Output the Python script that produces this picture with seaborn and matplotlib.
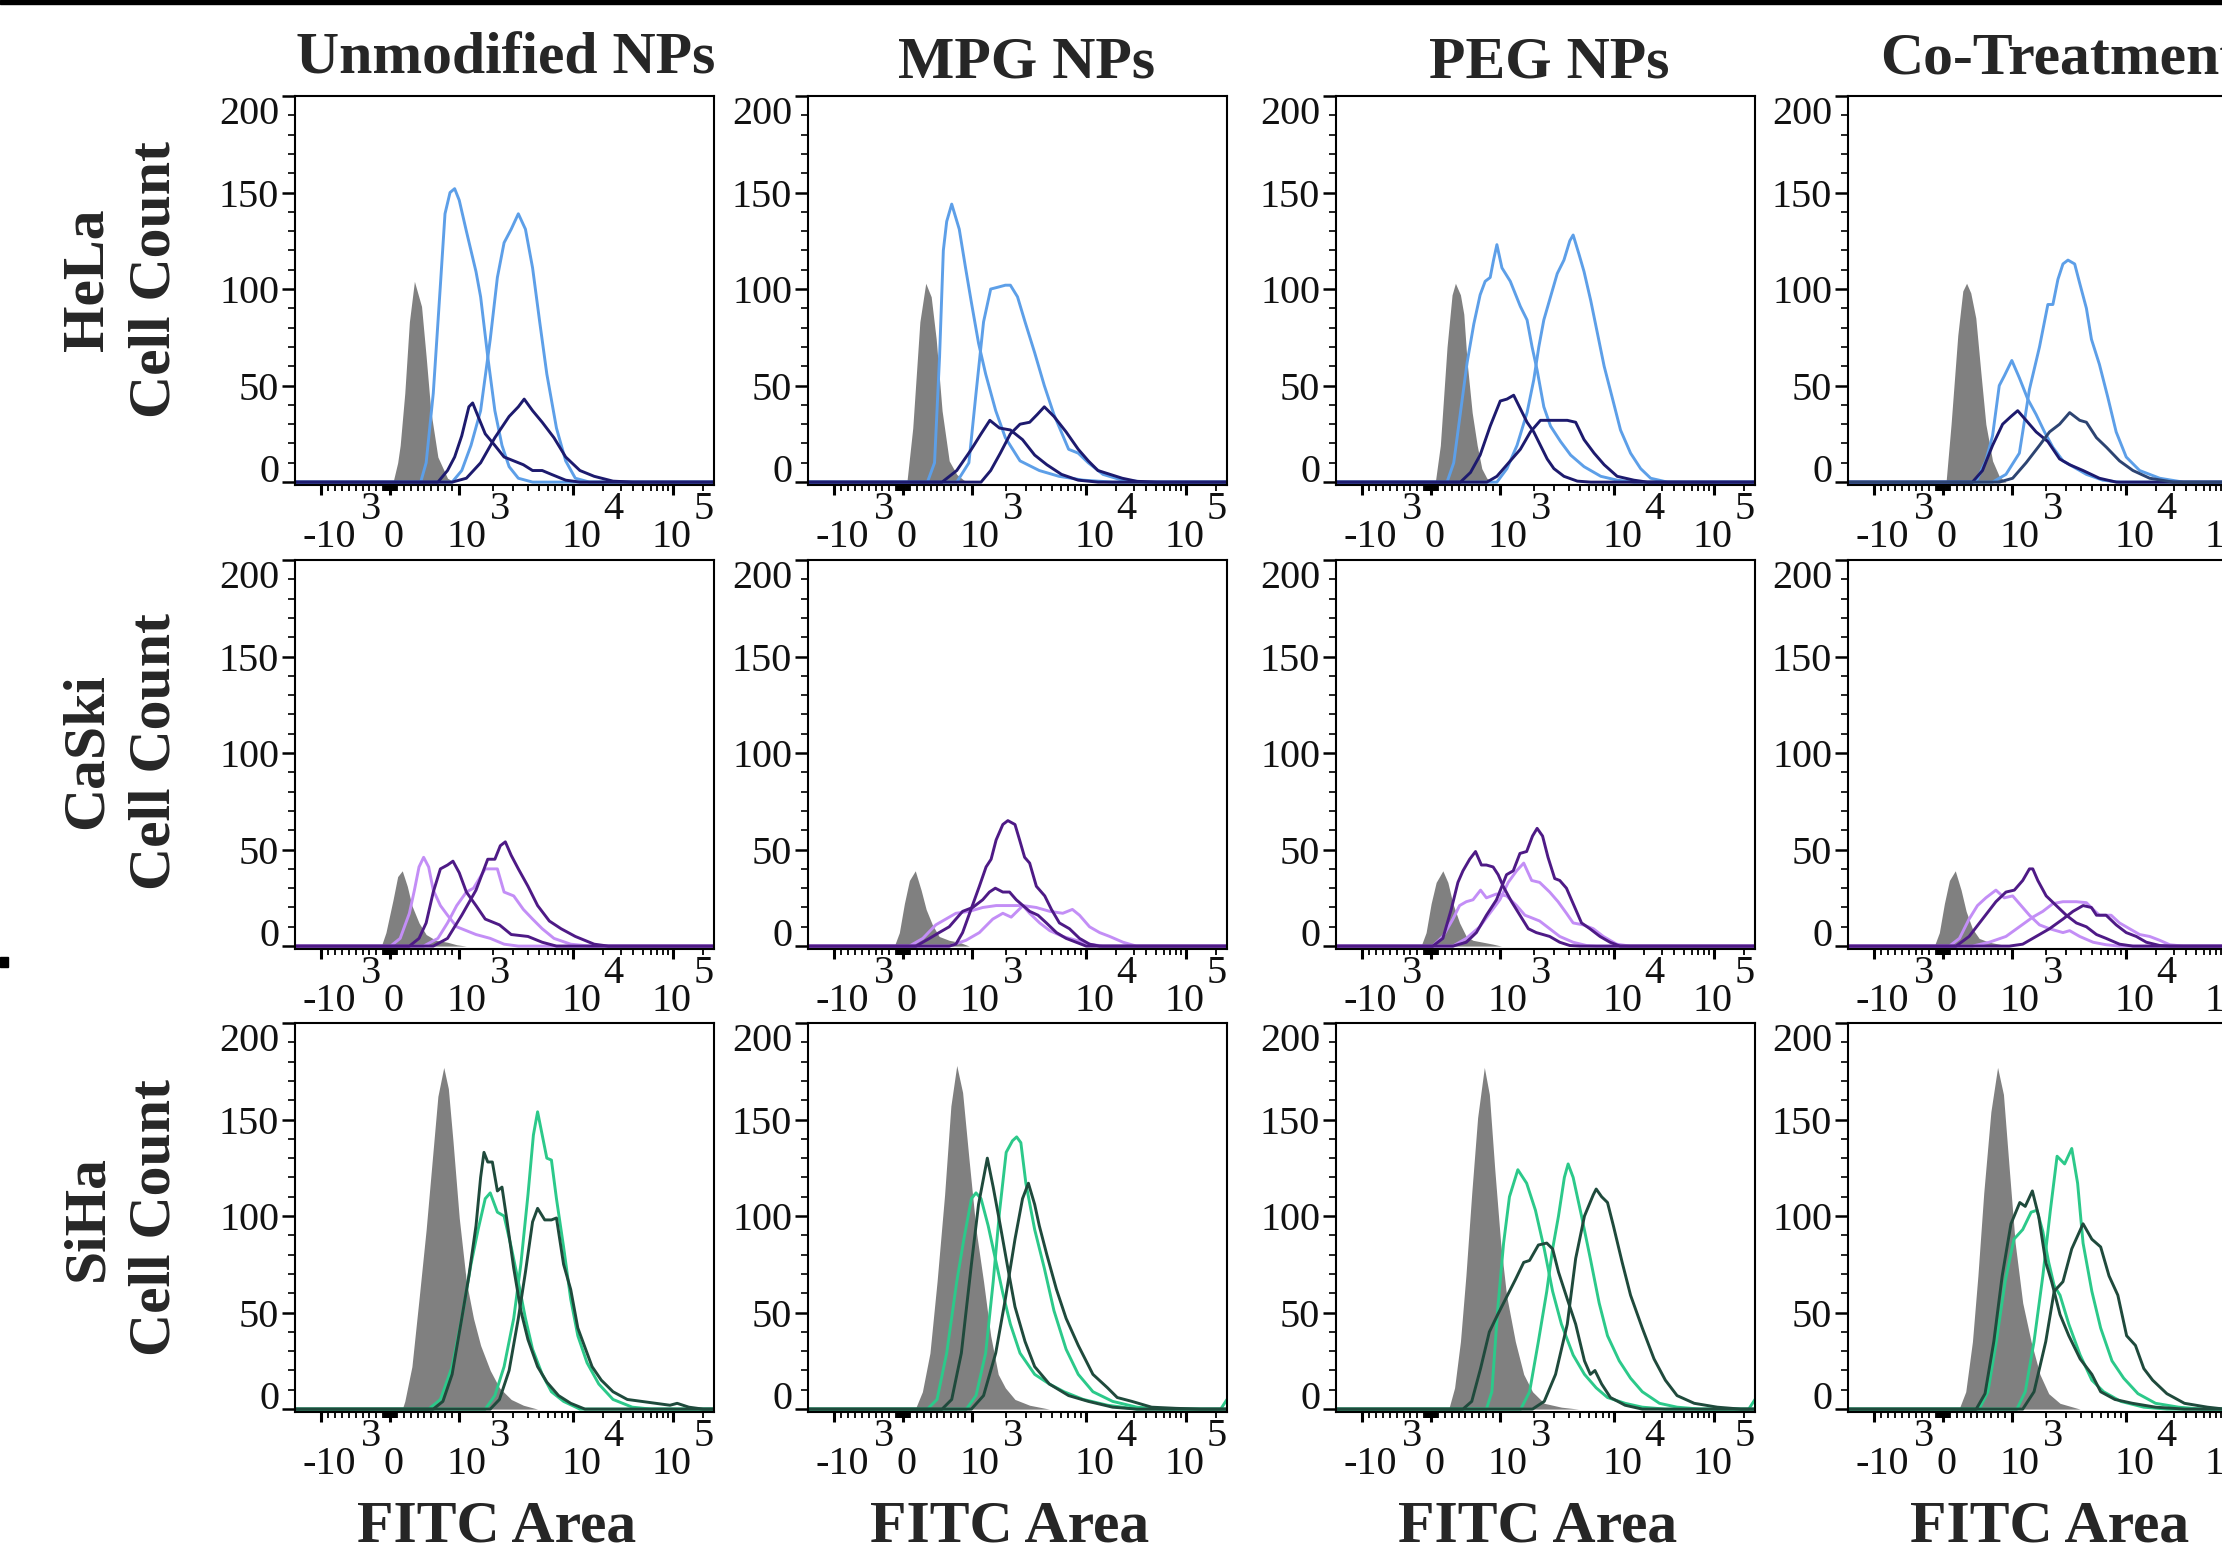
import numpy as np
import pandas as pd
import matplotlib
matplotlib.use("Agg")
import matplotlib.pyplot as plt
from matplotlib.transforms import blended_transform_factory, offset_copy
from matplotlib.patches import Rectangle
import seaborn as sns

# ---------------------------------------------------------------------------
# Histogram data: (display channel 0..1000 on the biexponential FITC axis, cell count)
# ---------------------------------------------------------------------------
CELL_LINES = ["HeLa", "CaSki", "SiHa"]
TREATMENTS = ["Unmodified NPs", "MPG NPs", "PEG NPs", "Co-Treatment"]

# HeLa
hela_unmod_ctrl = [(234, 0), (245, 10), (251, 19), (262, 46), (273, 83), (285, 104), (302, 91), (313, 65), (324, 37), (341, 13), (364, 2), (380, 0)]
hela_unmod_light1 = [(300, 0), (313, 10), (330, 46), (347, 102), (358, 139), (370, 150), (381, 152), (392, 146), (409, 130), (432, 109), (443, 96), (460, 65), (477, 37), (494, 19), (511, 8), (533, 2), (567, 0)]
hela_unmod_light2 = [(375, 0), (398, 6), (420, 19), (443, 37), (466, 74), (483, 106), (499, 124), (516, 131), (533, 139), (550, 131), (567, 111), (584, 83), (601, 56), (624, 28), (646, 11), (669, 2), (703, 0)]
hela_unmod_dark1 = [(341, 0), (364, 6), (381, 13), (398, 24), (415, 39), (424, 41), (437, 34), (454, 25), (477, 19), (499, 13), (522, 11), (545, 9), (567, 6), (590, 6), (612, 4), (646, 1), (680, 0)]
hela_unmod_dark2 = [(375, 0), (409, 2), (443, 10), (477, 23), (511, 34), (533, 39), (547, 43), (567, 37), (590, 31), (618, 23), (646, 13), (680, 6), (714, 3), (759, 0.5), (805, 0)]

hela_mpg_ctrl = [(236, 0), (250, 28), (267, 83), (281, 103), (294, 96), (306, 74), (320, 37), (337, 11), (355, 4), (372, 1), (390, 0)]
hela_mpg_light1 = [(285, 0), (302, 10), (314, 65), (323, 120), (331, 135), (343, 144), (361, 131), (376, 111), (390, 93), (407, 72), (424, 56), (448, 37), (471, 23), (506, 11), (552, 6), (599, 3), (657, 1), (727, 0)]
hela_mpg_light2 = [(355, 0), (384, 10), (401, 46), (419, 83), (436, 100), (454, 101), (471, 102), (483, 102), (500, 96), (518, 83), (541, 67), (564, 50), (587, 35), (622, 17), (645, 15), (669, 10), (704, 4), (750, 1), (808, 0)]
hela_mpg_dark1 = [(320, 0), (355, 6), (390, 17), (413, 25), (434, 32), (457, 28), (483, 27), (512, 22), (541, 14), (570, 9), (605, 4), (645, 1), (692, 0)]
hela_mpg_dark2 = [(413, 0), (436, 6), (459, 15), (483, 25), (506, 30), (529, 31), (547, 35), (564, 39), (587, 34), (616, 26), (645, 17), (669, 11), (692, 6), (721, 4), (750, 2), (785, 0.4), (832, 0)]

hela_peg_ctrl = [(237, 0), (249, 19), (265, 70), (277, 97), (285, 103), (297, 97), (305, 87), (313, 62), (325, 36), (337, 19), (348, 7), (360, 2), (376, 0)]
hela_peg_light1 = [(265, 0), (281, 10), (297, 36), (313, 62), (329, 82), (344, 97), (356, 104), (368, 106), (376, 115), (384, 123), (396, 111), (416, 104), (440, 91), (456, 84), (468, 70), (480, 58), (496, 39), (512, 29), (536, 21), (560, 14), (592, 8), (632, 3), (671, 1), (711, 0)]
hela_peg_light2 = [(384, 0), (408, 7), (432, 19), (456, 36), (472, 53), (484, 70), (496, 84), (512, 96), (528, 108), (544, 115), (558, 125), (566, 128), (580, 118), (592, 109), (608, 94), (624, 77), (640, 60), (659, 44), (679, 27), (703, 15), (727, 7), (751, 2), (791, 0)]
hela_peg_dark1 = [(297, 0), (321, 5), (344, 14), (368, 29), (392, 42), (408, 43), (424, 45), (440, 38), (456, 31), (472, 26), (488, 19), (504, 12), (520, 7), (544, 3), (576, 0.5), (608, 0)]
hela_peg_dark2 = [(360, 0), (384, 3), (408, 9), (440, 17), (464, 26), (488, 32), (520, 32), (552, 32), (572, 31), (592, 22), (616, 15), (640, 9), (671, 3), (711, 1), (743, 0)]

hela_co_ctrl = [(234, 0), (246, 30), (262, 76), (274, 99), (283, 103), (293, 98), (305, 85), (317, 57), (329, 30), (345, 11), (361, 3), (377, 0)]
hela_co_light1 = [(305, 0), (329, 11), (345, 24), (361, 50), (373, 55), (391, 63), (409, 54), (429, 43), (449, 35), (469, 26), (489, 18), (513, 11), (537, 8), (569, 4), (608, 1), (648, 0)]
hela_co_light2 = [(345, 0), (377, 4), (409, 15), (433, 48), (457, 70), (477, 92), (489, 92), (501, 105), (513, 113), (525, 115), (541, 113), (553, 103), (569, 90), (581, 74), (600, 61), (620, 44), (640, 26), (664, 13), (696, 6), (744, 2), (800, 0)]
hela_co_dark1 = [(297, 0), (321, 6), (345, 19), (369, 30), (389, 34), (405, 37), (425, 32), (449, 26), (477, 21), (505, 12), (529, 9), (561, 6), (600, 2), (640, 0)]
hela_co_dark2 = [(361, 0), (393, 2), (425, 10), (457, 19), (481, 26), (505, 30), (529, 36), (553, 32), (569, 31), (593, 23), (617, 18), (648, 11), (680, 6), (720, 2), (776, 0)]

# CaSki
caski_unmod_ctrl = [(206, 0), (217, 7), (234, 24), (245, 36), (256, 39), (268, 31), (279, 21), (296, 12), (313, 6), (336, 3), (364, 2), (386, 0.7), (409, 0)]
caski_unmod_light1 = [(228, 0), (251, 4), (273, 17), (285, 29), (296, 41), (307, 46), (319, 41), (330, 29), (347, 21), (364, 16), (386, 10), (409, 8), (432, 6), (466, 4), (499, 1), (533, 0)]
caski_unmod_light2 = [(307, 0), (341, 4), (364, 12), (386, 21), (409, 28), (426, 30), (454, 40), (483, 40), (499, 28), (522, 26), (545, 19), (567, 14), (590, 9), (618, 4), (658, 1), (703, 0)]
caski_unmod_dark1 = [(273, 0), (296, 4), (313, 12), (330, 28), (347, 40), (364, 42), (377, 44), (392, 38), (409, 28), (432, 21), (454, 14), (488, 11), (516, 6), (556, 5), (590, 2), (624, 0)]
caski_unmod_dark2 = [(330, 0), (364, 4), (398, 16), (432, 29), (460, 45), (477, 45), (490, 52), (502, 54), (516, 47), (533, 40), (556, 31), (579, 21), (607, 13), (635, 9), (669, 5), (714, 1), (748, 0)]

caski_mpg_ctrl = [(206, 0), (218, 7), (230, 22), (242, 34), (256, 39), (270, 29), (282, 19), (297, 11), (313, 5), (337, 3), (361, 2), (385, 0)]
caski_mpg_light1 = [(242, 0), (274, 4), (305, 11), (337, 15), (353, 17), (385, 18), (417, 20), (449, 21), (481, 21), (513, 21), (545, 20), (577, 18), (608, 17), (631, 19), (648, 16), (672, 10), (696, 7), (720, 5), (752, 2), (784, 0)]
caski_mpg_light2 = [(337, 0), (377, 3), (409, 7), (441, 14), (465, 17), (485, 15), (513, 21), (529, 17), (553, 12), (577, 8), (608, 5), (640, 3), (672, 1), (704, 0)]
caski_mpg_dark1 = [(258, 0), (290, 4), (313, 7), (337, 10), (369, 18), (393, 20), (417, 24), (433, 28), (447, 30), (465, 28), (481, 28), (497, 24), (513, 21), (529, 18), (549, 16), (569, 12), (593, 7), (616, 4), (640, 2), (664, 0)]
caski_mpg_dark2 = [(337, 0), (353, 1), (369, 7), (389, 19), (409, 31), (425, 41), (437, 45), (449, 55), (465, 63), (477, 65), (494, 63), (505, 55), (517, 46), (529, 43), (545, 31), (565, 26), (581, 19), (600, 12), (624, 9), (648, 4), (672, 1), (696, 0)]

caski_peg_ctrl = [(203, 0), (215, 7), (227, 22), (239, 33), (255, 39), (267, 33), (279, 22), (295, 12), (311, 5), (327, 3), (351, 2), (375, 1), (395, 0)]
caski_peg_light1 = [(231, 0), (255, 5), (279, 14), (295, 21), (311, 23), (327, 24), (345, 29), (359, 25), (383, 27), (407, 26), (431, 21), (451, 16), (463, 15), (486, 13), (510, 9), (534, 5), (566, 2), (598, 0.3), (622, 0)]
caski_peg_light2 = [(279, 0), (311, 4), (343, 10), (367, 17), (391, 24), (411, 33), (431, 39), (448, 43), (467, 34), (486, 33), (510, 28), (530, 23), (550, 17), (566, 12), (590, 11), (614, 9), (638, 5), (670, 1), (702, 0)]
caski_peg_dark1 = [(231, 0), (255, 4), (275, 19), (291, 33), (303, 39), (319, 45), (333, 49), (347, 42), (359, 42), (375, 41), (387, 37), (399, 31), (419, 23), (439, 16), (459, 9), (478, 7), (510, 5), (534, 2), (558, 0.3), (582, 0)]
caski_peg_dark2 = [(279, 0), (311, 2), (335, 7), (359, 16), (383, 24), (407, 37), (423, 39), (439, 48), (455, 49), (469, 57), (480, 61), (493, 57), (506, 46), (522, 35), (534, 34), (550, 30), (566, 22), (586, 12), (606, 9), (630, 5), (654, 2), (678, 0)]

caski_co_ctrl = [(206, 0), (218, 7), (230, 22), (242, 34), (256, 39), (270, 29), (282, 18), (297, 9), (313, 4), (337, 2), (361, 1), (385, 0)]
caski_co_light1 = [(242, 0), (266, 4), (289, 14), (309, 21), (329, 25), (353, 29), (373, 25), (393, 26), (413, 21), (433, 16), (457, 11), (481, 9), (513, 7), (529, 8), (553, 5), (585, 2), (616, 0.7), (648, 0)]
caski_co_light2 = [(297, 0), (337, 2), (377, 5), (409, 10), (441, 15), (465, 18), (489, 22), (513, 23), (545, 23), (569, 22.5), (585, 19), (600, 16), (628, 16), (648, 12), (672, 9), (696, 6), (720, 5), (744, 3), (768, 0.7), (800, 0)]
caski_co_dark1 = [(258, 0), (289, 5), (321, 14), (353, 23), (377, 28), (397, 29), (417, 34), (433, 40), (441, 40), (453, 34), (473, 26), (497, 21), (521, 16), (545, 12), (569, 10), (593, 6), (616, 4), (648, 1), (680, 0)]
caski_co_dark2 = [(385, 0), (417, 1), (449, 5), (481, 9), (513, 14), (537, 18), (561, 21), (581, 20), (593, 16), (616, 16), (640, 11), (664, 7), (688, 5), (712, 2), (744, 0.3), (768, 0)]

# SiHa
siha_unmod_ctrl = [(256, 0), (262, 4), (279, 22), (296, 57), (313, 93), (328, 130), (341, 162), (355, 177), (366, 166), (377, 139), (392, 99), (409, 66), (426, 47), (443, 33), (466, 20), (488, 11), (516, 5), (545, 2), (579, 0)]
siha_unmod_light1 = [(319, 0), (347, 5), (375, 22), (398, 47), (420, 75), (437, 93), (454, 109), (466, 112), (483, 102), (499, 100), (516, 84), (533, 66), (550, 47), (567, 31), (590, 18), (612, 9), (641, 4), (680, 0)]
siha_unmod_light2 = [(454, 0), (477, 7), (499, 22), (522, 47), (539, 75), (556, 111), (569, 142), (579, 154), (590, 142), (601, 130), (612, 129), (624, 109), (641, 84), (658, 57), (675, 38), (697, 24), (725, 13), (759, 5), (805, 1), (850, 0)]
siha_unmod_dark1 = [(330, 0), (353, 4), (375, 18), (398, 47), (415, 69), (432, 95), (443, 120), (451, 133), (460, 128), (471, 128), (483, 113), (494, 115), (505, 99), (522, 73), (539, 51), (556, 36), (579, 22), (601, 14), (629, 7), (658, 3), (692, 0)]
siha_unmod_dark2 = [(466, 0), (488, 5), (511, 20), (533, 47), (550, 71), (567, 97), (579, 104), (596, 98), (612, 98), (624, 99), (641, 75), (658, 62), (675, 42), (692, 32), (709, 22), (731, 15), (759, 9), (793, 5), (827, 4), (861, 3), (895, 2), (912, 3), (940, 1), (974, 0)]

siha_mpg_ctrl = [(256, 0), (273, 9), (291, 29), (308, 66), (326, 111), (341, 157), (355, 178), (369, 164), (384, 130), (401, 93), (419, 66), (436, 38), (454, 18), (471, 11), (494, 5), (529, 2), (576, 0)]
siha_mpg_light1 = [(285, 0), (308, 5), (331, 29), (355, 66), (372, 88), (390, 109), (401, 112), (413, 109), (430, 95), (448, 77), (465, 60), (483, 44), (506, 29), (541, 18), (576, 13), (611, 9), (657, 5), (715, 2), (785, 0)]
siha_mpg_light2 = [(378, 0), (401, 7), (424, 29), (442, 66), (457, 102), (473, 133), (488, 139), (498, 141), (508, 138), (520, 117), (541, 93), (564, 73), (587, 51), (616, 31), (645, 18), (680, 9), (727, 4), (785, 1), (843, 0), (985, 0), (1000, 5)]
siha_mpg_dark1 = [(320, 0), (343, 5), (366, 29), (390, 75), (407, 106), (428, 130), (442, 115), (459, 95), (477, 73), (494, 53), (518, 35), (541, 22), (576, 13), (622, 7), (669, 4), (727, 1), (785, 0)]
siha_mpg_dark2 = [(390, 0), (419, 7), (448, 29), (471, 57), (494, 88), (512, 109), (526, 117), (541, 106), (552, 95), (570, 80), (593, 62), (616, 47), (645, 33), (680, 18), (715, 11), (738, 6), (773, 4), (820, 1), (878, 0.4), (936, 0)]

siha_peg_ctrl = [(269, 0), (283, 11), (297, 35), (310, 69), (324, 112), (338, 151), (354, 177), (366, 163), (379, 124), (393, 86), (407, 59), (428, 35), (448, 18), (469, 9), (497, 3), (538, 1), (579, 0)]
siha_peg_light1 = [(359, 0), (372, 9), (386, 52), (400, 86), (414, 110), (434, 124), (455, 117), (476, 103), (497, 83), (517, 61), (538, 44), (566, 28), (593, 18), (621, 11), (648, 6), (690, 3), (731, 1), (786, 0)]
siha_peg_light2 = [(441, 0), (462, 9), (483, 35), (503, 61), (517, 83), (531, 100), (545, 120), (554, 127), (566, 120), (586, 100), (607, 78), (628, 55), (648, 38), (676, 25), (703, 16), (731, 9), (772, 3), (814, 1), (869, 0), (985, 0), (1000, 5)]
siha_peg_dark1 = [(303, 0), (324, 4), (345, 21), (366, 40), (386, 49), (407, 58), (428, 67), (448, 76), (462, 77), (483, 85), (503, 86), (517, 83), (531, 71), (552, 57), (572, 44), (593, 25), (607, 18), (618, 20), (634, 13), (655, 6), (690, 2), (731, 0)]
siha_peg_dark2 = [(469, 0), (497, 4), (524, 18), (552, 44), (572, 78), (593, 100), (614, 111), (621, 114), (634, 110), (648, 107), (662, 95), (683, 76), (703, 59), (731, 42), (759, 26), (786, 15), (814, 7), (855, 3), (910, 1), (966, 0)]

siha_co_ctrl = [(265, 0), (281, 9), (297, 35), (310, 69), (324, 112), (341, 154), (357, 177), (371, 163), (385, 124), (399, 86), (417, 55), (437, 35), (458, 18), (479, 8), (506, 3), (554, 0)]
siha_co_light1 = [(313, 0), (334, 9), (354, 35), (375, 66), (396, 88), (417, 93), (437, 102), (451, 103), (465, 92), (479, 76), (492, 64), (506, 59), (527, 44), (554, 28), (582, 15), (610, 9), (651, 4), (706, 1), (761, 0)]
siha_co_light2 = [(403, 0), (423, 9), (444, 35), (465, 69), (483, 103), (499, 131), (517, 127), (534, 135), (548, 117), (561, 86), (582, 61), (603, 42), (630, 25), (658, 16), (692, 8), (734, 3), (789, 1), (844, 0)]
siha_co_dark1 = [(306, 0), (327, 8), (348, 35), (368, 69), (389, 96), (410, 107), (423, 105), (440, 113), (455, 100), (472, 76), (486, 66), (506, 49), (527, 38), (554, 26), (582, 18), (603, 9), (637, 5), (679, 3), (734, 1), (803, 0)]
siha_co_dark2 = [(417, 0), (444, 9), (472, 35), (492, 61), (513, 66), (534, 83), (561, 96), (582, 88), (603, 84), (623, 69), (644, 59), (665, 38), (686, 33), (706, 21), (727, 15), (761, 8), (803, 3), (858, 1), (899, 0)]

# Axis ticks on the FITC axis (raw FITC-A values)
X_MAJOR_FITC = [-1e3, 0, 1e3, 1e4, 1e5]
X_BASE_TEXT = ["-10", "0", "10", "10", "10"]
X_EXP_TEXT = ["3", "", "3", "4", "5"]
X_MINOR_FITC = ([-900, -800, -700, -600, -500, -400, -300, -200, -100]
                + [-90, -80, -70, -60, -50, -40, -30, -20, -10, 10, 20, 30, 40, 50, 60, 70, 80, 90]
                + [100, 200, 300, 400, 500, 600, 700, 800, 900]
                + [2e3, 3e3, 4e3, 5e3, 6e3, 7e3, 8e3, 9e3]
                + [2e4, 3e4, 4e4, 5e4, 6e4, 7e4, 8e4, 9e4, 2e5])
Y_MAJOR = [0, 50, 100, 150, 200]
Y_MINOR = list(range(0, 201, 10))

# ---------------------------------------------------------------------------
# Styling
# ---------------------------------------------------------------------------
CH_MIN, CH_MAX = 0, 1000
Y_LIM = (-1.5, 200)
GREY = "#808080"
ROW_COLORS = {
    "HeLa": {"light": "#5d9fe8", "dark": "#1d1a6e", "dark_alt": "#2d4472"},
    "CaSki": {"light": "#c38ef6", "dark": "#4e1a86", "dark_alt": "#4e1a86"},
    "SiHa": {"light": "#2cc98a", "dark": "#1f4a3c", "dark_alt": "#1f4a3c"},
}
ALT_DARK_PANELS = {("HeLa", "Co-Treatment")}

W_PX, H_PX = 2222, 1556
COL_LEFT_PX = [295, 808, 1336, 1848]
ROW_TOP_PX = [96, 560, 1023]
AX_W_PX, AX_H_PX = 419, 389
TITLE_X_PX = [506, 1027, 1549, 1880]
TITLE_BASE_PX = [73, 77, 77, 74]
ROW_LABEL_Y_PX = [280, 751, 1218]
PX2PT = 72.0 / 100.0

BASE_DX_PT = [v * PX2PT for v in (7.5, 3, 7.5, 8, -1)]
EXP_DX_PT = [v * PX2PT for v in (50, 0, 41, 40.5, 31)]
BASE_DY_PT = -62 * PX2PT
EXP_DY_PT = -34 * PX2PT

TICK_FS = 29
HEAD_FS = 43
LINE_W = 2.1


def fitc_to_channel(v):
    """Biexponential-style display transform used by the cytometer export."""
    v = np.asarray(v, dtype=float)
    lin = 227 + 0.164 * v
    dec3 = 391 + 273 * np.log10(np.clip(v, 1e3, None) / 1e3)
    dec4 = 664 + 238 * np.log10(np.clip(v, 1e4, None) / 1e4)
    return np.where(v <= 1e3, lin, np.where(v <= 1e4, dec3, dec4))


def padded(curve):
    pts = list(curve)
    if pts[0][0] > CH_MIN:
        pts.insert(0, (CH_MIN, 0))
    if pts[-1][0] < CH_MAX:
        pts.append((CH_MAX, 0))
    arr = np.array(pts, dtype=float)
    return arr[:, 0], arr[:, 1]


g = globals()
KEYS = {"Unmodified NPs": "unmod", "MPG NPs": "mpg", "PEG NPs": "peg", "Co-Treatment": "co"}
SAMPLES = ["light1", "light2", "dark1", "dark2"]

sns.set_theme(style="ticks")
plt.rcParams["font.family"] = ["Liberation Serif", "DejaVu Serif"]
plt.rcParams["axes.linewidth"] = 1.5

fig = plt.figure(figsize=(W_PX / 100, H_PX / 100), dpi=100)
fig.patch.set_facecolor("white")

for r, line in enumerate(CELL_LINES):
    cols = ROW_COLORS[line]
    for c, treat in enumerate(TREATMENTS):
        prefix = f"{line.lower()}_{KEYS[treat]}"
        left = COL_LEFT_PX[c] / W_PX
        bottom = 1 - (ROW_TOP_PX[r] + AX_H_PX) / H_PX
        ax = fig.add_axes([left, bottom, AX_W_PX / W_PX, AX_H_PX / H_PX])

        # unstained control as a filled histogram
        cx, cy = padded(g[f"{prefix}_ctrl"])
        ax.fill_between(cx, cy, 0, color=GREY, lw=0, zorder=1)

        rows = []
        for s in SAMPLES:
            xs, ys = padded(g[f"{prefix}_{s}"])
            rows.append(pd.DataFrame({"channel": xs, "count": ys, "sample": s}))
        frame = pd.concat(rows, ignore_index=True)
        dark2 = cols["dark_alt"] if (line, treat) in ALT_DARK_PANELS else cols["dark"]
        palette = {"light1": cols["light"], "light2": cols["light"],
                   "dark1": cols["dark"], "dark2": dark2}
        sns.lineplot(data=frame, x="channel", y="count", hue="sample",
                     hue_order=SAMPLES, palette=palette, estimator=None,
                     sort=False, linewidth=LINE_W, legend=False, ax=ax, zorder=2)

        ax.set_xlim(CH_MIN, CH_MAX)
        ax.set_ylim(*Y_LIM)
        ax.set_xlabel("")
        ax.set_ylabel("")
        for sp in ax.spines.values():
            sp.set_visible(True)
            sp.set_color("black")
            sp.set_linewidth(1.5)

        # y axis
        ax.set_yticks(Y_MAJOR)
        ax.set_yticklabels([str(v) for v in Y_MAJOR])
        ax.set_yticks(Y_MINOR, minor=True)
        ax.tick_params(axis="y", which="major", direction="out", length=9.5,
                       width=1.8, labelsize=TICK_FS, pad=2, left=True, colors="black")
        ax.tick_params(axis="y", which="minor", direction="out", length=5,
                       width=1.2, left=True, color="black")
        ylabels = ax.get_yticklabels()
        ylabels[0].set_verticalalignment("baseline")
        ylabels[-1].set_verticalalignment("top")
        for t in ylabels:
            t.set_color("#111111")

        # x axis (biexponential ticks)
        ax.set_xticks(fitc_to_channel(X_MAJOR_FITC))
        ax.set_xticklabels([])
        ax.set_xticks(fitc_to_channel(X_MINOR_FITC), minor=True)
        ax.tick_params(axis="x", which="major", direction="out", length=7.5,
                       width=2.2, bottom=True, color="black")
        ax.tick_params(axis="x", which="minor", direction="out", length=4.5,
                       width=1.3, bottom=True, color="black")

        tr = blended_transform_factory(ax.transData, ax.transAxes)
        for v, base, exp, bdx, edx in zip(X_MAJOR_FITC, X_BASE_TEXT, X_EXP_TEXT,
                                          BASE_DX_PT, EXP_DX_PT):
            xc = float(fitc_to_channel(v))
            ax.text(xc, 0, base, ha="center", va="baseline", fontsize=TICK_FS,
                    color="#111111", clip_on=False,
                    transform=offset_copy(tr, fig=fig, x=bdx, y=BASE_DY_PT, units="points"))
            if exp:
                ax.text(xc, 0, exp, ha="center", va="baseline", fontsize=TICK_FS,
                        color="#111111", clip_on=False,
                        transform=offset_copy(tr, fig=fig, x=edx, y=EXP_DY_PT, units="points"))

        if r == 0:
            ha = "left" if c == 3 else "center"
            fig.text(TITLE_X_PX[c] / W_PX, 1 - TITLE_BASE_PX[c] / H_PX, treat,
                     ha=ha, va="baseline", fontsize=HEAD_FS, fontweight="bold")
        if r == len(CELL_LINES) - 1:
            fig.text((COL_LEFT_PX[c] + AX_W_PX / 2 - 8) / W_PX, 1 - 1542 / H_PX,
                     "FITC Area", ha="center", va="baseline",
                     fontsize=HEAD_FS, fontweight="bold")

    yc = 1 - ROW_LABEL_Y_PX[r] / H_PX
    fig.text(88 / W_PX, yc, line, rotation=90, ha="center", va="center",
             fontsize=HEAD_FS, fontweight="bold")
    fig.text(156 / W_PX, yc, "Cell Count", rotation=90, ha="center", va="center",
             fontsize=HEAD_FS, fontweight="bold")

# rule along the top edge and the small mark at the left margin
fig.patches.append(Rectangle((0, 1 - 4 / H_PX), 1, 4 / H_PX, transform=fig.transFigure,
                             color="black", zorder=5))
fig.patches.append(Rectangle((0, 1 - 967 / H_PX), 8 / W_PX, 10 / H_PX,
                             transform=fig.transFigure, color="black", zorder=5))

fig.savefig("out.png", dpi=100, facecolor="white")
